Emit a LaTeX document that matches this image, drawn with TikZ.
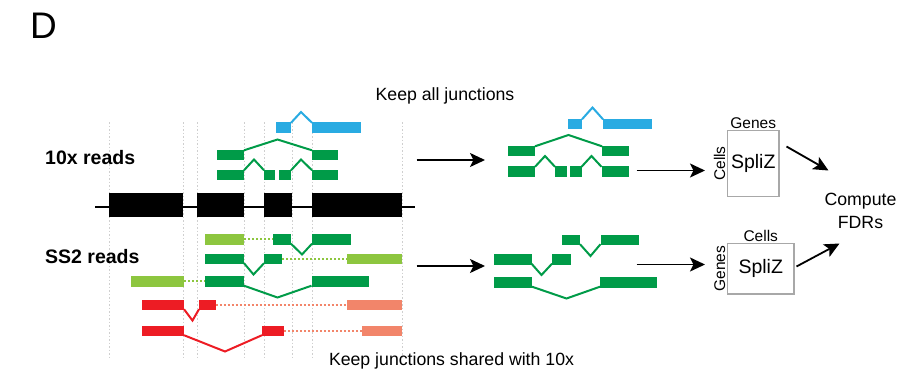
\documentclass[tikz,border=0pt]{standalone}
\usepackage{fontspec}
\setmainfont{Liberation Sans}
\usetikzlibrary{arrows.meta}

\definecolor{tenxblue}{HTML}{29ABE2}
\definecolor{readgreen}{HTML}{009B48}
\definecolor{softgreen}{HTML}{8DC63F}
\definecolor{readred}{HTML}{ED1C24}
\definecolor{softred}{HTML}{F2856A}
\definecolor{guidegray}{HTML}{CFCFCF}
\definecolor{boxgray}{HTML}{A8A8A8}

\tikzset{
    guide/.style={guidegray, line width=1pt, dash pattern=on 1.5pt off 2pt},
    backbone/.style={black, line width=1.6pt},
    junc/.style={line width=2pt, line join=miter},
    gapline/.style={line width=1.8pt, dash pattern=on 2pt off 2pt},
    flow/.style={-{Stealth[length=15pt,width=14pt,inset=3.5pt]}, line width=1.8pt},
    splizbox/.style={draw=boxgray, line width=1.3pt, inner sep=0pt,
        font=\fontsize{19.5}{22}\selectfont},
    axislabel/.style={inner sep=1.5pt, font=\fontsize{15.5}{18}\selectfont},
    caption/.style={font=\fontsize{17.7}{23}\selectfont},
    rowlabel/.style={anchor=base west, inner sep=0pt, font=\fontsize{19.5}{22}\selectfont\bfseries}
}

\begin{document}
\begin{tikzpicture}[x=1pt,y=-1pt]
    \useasboundingbox (0,0) rectangle (906,381);

    % Panel letter
    \node (panel) [anchor=base west, inner sep=0pt, font=\fontsize{37}{40}\selectfont] at (30,38.5) {D};

    % Exon boundaries
    \foreach \xpos in {109,183,197,244,264,292,312,402}
        \draw [guide] (\xpos,122) to (\xpos,357);

    % Gene model
    \draw [backbone] (95,207) to (415,207);
    \fill [black] (109,193) rectangle (183,217);
    \fill [black] (197,193) rectangle (244,217);
    \fill [black] (264,193) rectangle (292,217);
    \fill [black] (312,193) rectangle (402,217);

    % Row labels
    \node (tenxlabel) [rowlabel] at (45,164) {10x reads};
    \node (sstwolabel) [rowlabel] at (45,263) {SS2 reads};

    % 10x reads
    \fill [tenxblue] (276,122) rectangle (291,132.5);
    \draw [junc,tenxblue] (291,122.8) to (301,112) to (312,122.8);
    \fill [tenxblue] (312,122) rectangle (361,132.5);

    \fill [readgreen] (217,149.5) rectangle (244,160);
    \draw [junc,readgreen] (244,150.3) to (277.5,139.5) to (312,150.3);
    \fill [readgreen] (312,149.5) rectangle (338,160);

    \fill [readgreen] (217,169.5) rectangle (244,180);
    \draw [junc,readgreen] (244,170.3) to (254,159.5) to (264,170.3);
    \fill [readgreen] (264,169.5) rectangle (275,180);
    \fill [readgreen] (279,169.5) rectangle (291,180);
    \draw [junc,readgreen] (291,170.3) to (301,159.5) to (312,170.3);
    \fill [readgreen] (312,169.5) rectangle (338,180);

    % SS2 reads
    \fill [softgreen] (205,234) rectangle (244,244.5);
    \draw [gapline,softgreen] (244,239.2) to (272.5,239.2);
    \fill [readgreen] (272.5,234) rectangle (291,244.5);
    \draw [junc,readgreen] (291,243.7) to (302,254.5) to (312,243.7);
    \fill [readgreen] (312,234) rectangle (350.5,244.5);

    \fill [readgreen] (205,253.5) rectangle (244,264);
    \draw [junc,readgreen] (244,263.2) to (253.5,274.5) to (264,263.2);
    \fill [readgreen] (264,253.5) rectangle (282,264);
    \draw [gapline,softgreen] (282,258.7) to (346.5,258.7);
    \fill [softgreen] (346.5,253.5) rectangle (402,264);

    \fill [softgreen] (131,276) rectangle (184,286.5);
    \draw [gapline,softgreen] (184,281.2) to (205,281.2);
    \fill [readgreen] (205,276) rectangle (244,286.5);
    \draw [junc,readgreen] (244,285.7) to (277.5,297.5) to (311.5,285.7);
    \fill [readgreen] (311.5,276) rectangle (368.5,286.5);

    \fill [readred] (142,299.5) rectangle (184,310);
    \draw [junc,readred] (184,309.2) to (192.5,320.5) to (199,309.2);
    \fill [readred] (199,299.5) rectangle (215.5,310);
    \draw [gapline,softred] (215.5,304.7) to (346.5,304.7);
    \fill [softred] (346.5,299.5) rectangle (402,310);

    \fill [readred] (142,325.5) rectangle (184,336);
    \draw [junc,readred] (184,335.2) to (225,351.5) to (262,335.2);
    \fill [readred] (262,325.5) rectangle (284,336);
    \draw [gapline,softred] (284,330.7) to (361.5,330.7);
    \fill [softred] (361.5,325.5) rectangle (402,336);

    % Captions
    \node (keepall) [caption,anchor=base] at (445,100) {Keep all junctions};
    \node (keepshared) [caption,anchor=base] at (451.5,365.5) {Keep junctions shared with 10x};

    % Kept 10x junctions
    \fill [tenxblue] (567.5,118.5) rectangle (582,129);
    \draw [junc,tenxblue] (582,119.3) to (592.5,107.5) to (603,119.3);
    \fill [tenxblue] (603,118.5) rectangle (651.5,129);

    \fill [readgreen] (507.5,145.5) rectangle (535,156);
    \draw [junc,readgreen] (535,146.3) to (568.5,135) to (602,146.3);
    \fill [readgreen] (602,145.5) rectangle (629,156);

    \fill [readgreen] (507.5,166) rectangle (535,176.5);
    \draw [junc,readgreen] (535,166.8) to (545,156) to (555,166.8);
    \fill [readgreen] (555,166) rectangle (566.5,176.5);
    \fill [readgreen] (570,166) rectangle (581.5,176.5);
    \draw [junc,readgreen] (581.5,166.8) to (591.5,156) to (601.5,166.8);
    \fill [readgreen] (601.5,166) rectangle (629,176.5);

    % Kept SS2 junctions
    \fill [readgreen] (561.5,234.5) rectangle (580,245);
    \draw [junc,readgreen] (580,244.2) to (590.5,256) to (600.5,244.2);
    \fill [readgreen] (600.5,234.5) rectangle (639,245);

    \fill [readgreen] (493.5,254) rectangle (531.5,264.5);
    \draw [junc,readgreen] (531.5,263.7) to (541.5,275) to (552,263.7);
    \fill [readgreen] (552,254) rectangle (570.5,264.5);

    \fill [readgreen] (494,277) rectangle (532,287.5);
    \draw [junc,readgreen] (532,286.7) to (566.5,298.5) to (600,286.7);
    \fill [readgreen] (600,277) rectangle (656.5,287.5);

    % SpliZ matrices
    \node (splizup) [splizbox, minimum width=51.5pt, minimum height=66pt] at (753.25,163.5) {SpliZ};
    \node (genesup) [axislabel, anchor=south] at (splizup.north) {Genes};
    \node (cellsup) [axislabel, anchor=south, rotate=90] at (splizup.west) {Cells};

    \node (splizdown) [splizbox, minimum width=66.5pt, minimum height=50.5pt] at (760.75,268.75) {SpliZ};
    \node (cellsdown) [axislabel, anchor=south] at (splizdown.north) {Cells};
    \node (genesdown) [axislabel, anchor=south, rotate=90] at (splizdown.west) {Genes};

    \node (fdr) [caption, align=center] at (860.5,210.5) {Compute\\FDRs};

    % Arrows
    \coordinate (tenxstart) at (416.5,160);
    \coordinate (tenxend) at (485,160);
    \coordinate (sstwostart) at (416.5,266);
    \coordinate (sstwoend) at (485,266);
    \coordinate (keptup) at (636.5,170.5);
    \coordinate (intoup) at (705,170.5);
    \coordinate (keptdown) at (636.5,264.5);
    \coordinate (intodown) at (705,264.5);
    \coordinate (fromup) at (786.5,146.5);
    \coordinate (fdrup) at (828.5,170.5);
    \coordinate (fromdown) at (796.5,266.5);
    \coordinate (fdrdown) at (839.5,243.5);

    \draw [flow] (tenxstart) to (tenxend);
    \draw [flow] (sstwostart) to (sstwoend);
    \draw [flow] (keptup) to (intoup);
    \draw [flow] (keptdown) to (intodown);
    \draw [flow] (fromup) to (fdrup);
    \draw [flow] (fromdown) to (fdrdown);
\end{tikzpicture}
\end{document}
